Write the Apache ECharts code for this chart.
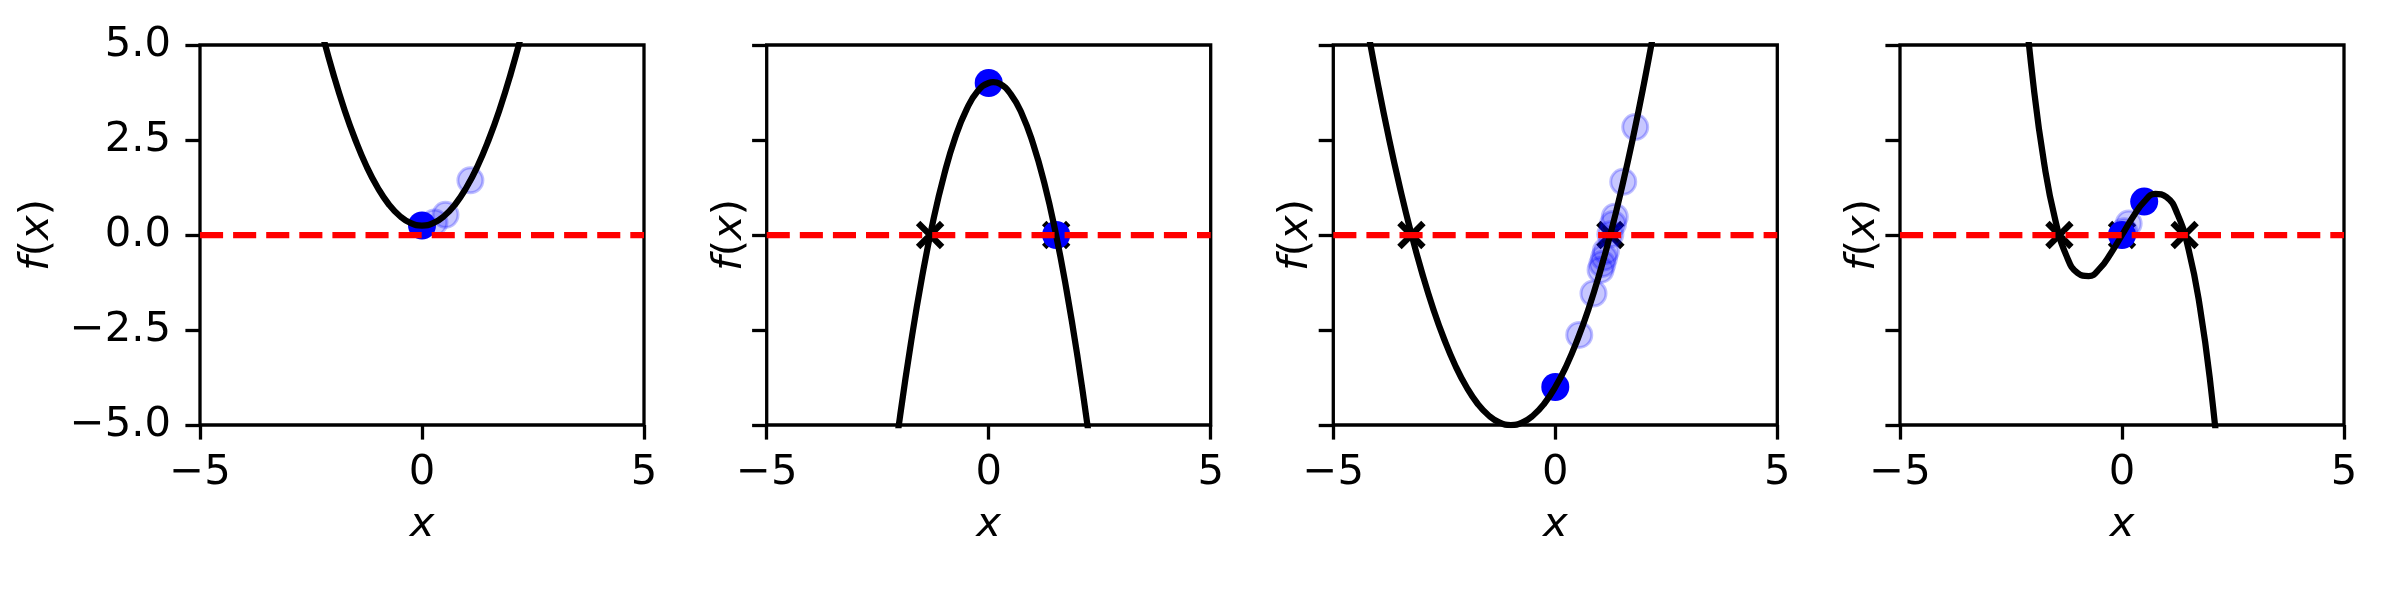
<!DOCTYPE html>
<html>
<head>
<meta charset="utf-8">
<script src="https://cdn.jsdelivr.net/npm/echarts@6/dist/echarts.min.js"></script>
<style>
  html, body { margin: 0; padding: 0; background: #fff; }
  #chart { width: 2400px; height: 600px; }
</style>
</head>
<body>
<div id="chart"></div>
<script>
// tick labels
const xTickValues = [-5, 0, 5]
const xTickText = ['\u22125', '0', '5']
const yTickValues = [-5, -2.5, 0, 2.5, 5]
const yTickText = ['\u22125.0', '\u22122.5', '0.0', '2.5', '5.0']

// panel 1
const curve1X = [-2.5, -2.25, -2, -1.75, -1.5, -1.25, -1, -0.75, -0.5, -0.25, 0, 0.25, 0.5, 0.75, 1, 1.25, 1.5, 1.75, 2, 2.25, 2.5]
const curve1Y = [6.5, 5.31, 4.25, 3.31, 2.5, 1.81, 1.25, 0.81, 0.5, 0.31, 0.25, 0.31, 0.5, 0.81, 1.25, 1.81, 2.5, 3.31, 4.25, 5.31, 6.5]
const roots1 = []
const faded1 = [[0.28, 0.33], [0.53, 0.53], [1.09, 1.44]]
const solid1 = [[0, 0.25]]

// panel 2
const curve2X = [-2.25, -2, -1.75, -1.5, -1.25, -1, -0.75, -0.5, -0.25, 0, 0.1, 0.25, 0.5, 0.75, 1, 1.25, 1.5, 1.75, 2, 2.25, 2.5]
const curve2Y = [-7.03, -4.8, -2.83, -1.1, 0.38, 1.6, 2.58, 3.3, 3.78, 4, 4.02, 3.98, 3.7, 3.18, 2.4, 1.38, 0.1, -1.43, -3.2, -5.23, -7.5]
const roots2 = [-1.32, 1.52]
const faded2 = []
const solid2 = [[0, 4], [1.52, 0]]

// panel 3
const curve3X = [-4.5, -4.25, -4, -3.75, -3.5, -3.25, -3, -2.75, -2.5, -2.25, -2, -1.75, -1.5, -1.25, -1, -0.75, -0.5, -0.25, 0, 0.25, 0.5, 0.75, 1, 1.25, 1.5, 1.75, 2, 2.25, 2.5]
const curve3Y = [7.25, 5.56, 4, 2.56, 1.25, 0.06, -1, -1.94, -2.75, -3.44, -4, -4.44, -4.75, -4.94, -5, -4.94, -4.75, -4.44, -4, -3.44, -2.75, -1.94, -1, 0.06, 1.25, 2.56, 4, 5.56, 7.25]
const roots3 = [-3.24, 1.24]
const faded3 = [[0.54, -2.63], [0.86, -1.54], [1.02, -0.92], [1.06, -0.76], [1.1, -0.59], [1.14, -0.42], [1.24, 0.02], [1.3, 0.29], [1.34, 0.48], [1.53, 1.4], [1.8, 2.84]]
const solid3 = [[0, -4]]

// panel 4
const curve4X = [-2.25, -2, -1.75, -1.5, -1.25, -1, -0.75, -0.5, -0.25, 0, 0.25, 0.5, 0.75, 1, 1.25, 1.5, 1.75, 2, 2.25]
const curve4Y = [6.89, 4, 1.86, 0.38, -0.55, -1, -1.08, -0.88, -0.48, 0, 0.48, 0.88, 1.08, 1, 0.55, -0.38, -1.86, -4, -6.89]
const roots4 = [-1.41, 0, 1.41]
const faded4 = [[0.15, 0.3], [0.05, 0.1]]
const solid4 = [[0.5, 0.88], [0, 0]]

const zeroLine = [[-5, 0], [5, 0]]

const panels = [
  {cx: curve1X, cy: curve1Y, roots: roots1, faded: faded1, solid: solid1},
  {cx: curve2X, cy: curve2Y, roots: roots2, faded: faded2, solid: solid2},
  {cx: curve3X, cy: curve3Y, roots: roots3, faded: faded3, solid: solid3},
  {cx: curve4X, cy: curve4Y, roots: roots4, faded: faded4, solid: solid4}
]

const FONT = 'DejaVu Sans'
const FS = 41.7
const gridLeft = [200, 766.7, 1333.3, 1900]

const chart = echarts.init(document.getElementById('chart'), null, {renderer: 'canvas'})

const grid = [], xAxis = [], yAxis = [], series = []
panels.forEach((p, i) => {
  grid.push({
    left: gridLeft[i], top: 45, width: 444, height: 380,
    show: true, borderColor: '#000', borderWidth: 3.3, backgroundColor: 'transparent',
    outerBoundsMode: 'none'
  })
  xAxis.push({
    type: 'value', gridIndex: i, min: -5, max: 5, interval: 5, position: 'bottom',
    name: 'x', nameLocation: 'middle', nameGap: 79,
    nameTextStyle: {fontFamily: FONT, fontSize: FS, fontStyle: 'italic', color: '#000'},
    axisLine: {show: false, onZero: false},
    axisTick: {show: true, inside: false, length: 14.6, lineStyle: {color: '#000', width: 3.3}},
    axisLabel: {
      fontFamily: FONT, fontSize: FS, color: '#000', margin: 27,
      formatter: v => xTickText[xTickValues.indexOf(v)]
    },
    splitLine: {show: false}
  })
  yAxis.push({
    type: 'value', gridIndex: i, min: -5, max: 5, interval: 2.5, position: 'left',
    name: '{i|f}({i|x})', nameLocation: 'middle', nameRotate: 90,
    nameGap: i === 0 ? 142 : 16,
    nameTextStyle: {
      fontFamily: FONT, fontSize: FS, color: '#000',
      rich: {i: {fontFamily: FONT, fontSize: FS, fontStyle: 'italic', color: '#000'}}
    },
    axisLine: {show: false, onZero: false},
    axisTick: {show: true, inside: false, length: 14.6, lineStyle: {color: '#000', width: 3.3}},
    axisLabel: {
      show: i === 0,
      fontFamily: FONT, fontSize: FS, color: '#000', margin: 29,
      formatter: v => yTickText[yTickValues.indexOf(v)]
    },
    splitLine: {show: false}
  })

  series.push({
    type: 'scatter', xAxisIndex: i, yAxisIndex: i, silent: true,
    data: p.roots.map(r => [r, 0]),
    symbol: 'path://M0,0L10,10M10,0L0,10', symbolSize: 24,
    itemStyle: {color: 'rgba(0,0,0,0)', borderColor: '#000', borderWidth: 6.25, opacity: 1}
  })
  series.push({
    type: 'scatter', xAxisIndex: i, yAxisIndex: i, silent: true,
    data: p.faded, symbol: 'circle', symbolSize: 25,
    itemStyle: {color: 'rgba(0,0,255,0.22)', borderColor: 'rgba(0,0,255,0.25)', borderWidth: 3, opacity: 1}
  })
  series.push({
    type: 'scatter', xAxisIndex: i, yAxisIndex: i, silent: true,
    data: p.solid, symbol: 'circle', symbolSize: 28,
    itemStyle: {color: '#0000ff', opacity: 1}
  })
  series.push({
    type: 'line', xAxisIndex: i, yAxisIndex: i, silent: true,
    data: p.cx.map((x, k) => [x, p.cy[k]]),
    showSymbol: false, smooth: true, clip: true,
    lineStyle: {color: '#000', width: 6.25}
  })
  series.push({
    type: 'line', xAxisIndex: i, yAxisIndex: i, silent: true,
    data: zeroLine, showSymbol: false, clip: true,
    lineStyle: {color: '#ff0000', width: 6.25, type: [23.1, 10]}
  })
})

chart.setOption({
  animation: false,
  backgroundColor: '#fff',
  grid, xAxis, yAxis, series
})
</script>
</body>
</html>
